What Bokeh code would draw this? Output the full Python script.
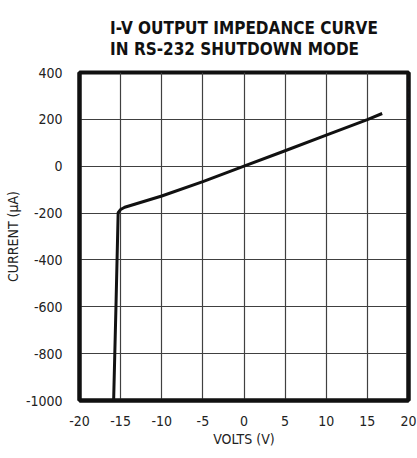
import math
from bokeh.plotting import figure
from bokeh.models import FixedTicker, Label, Title, LinearAxis
from bokeh.embed import file_html
from bokeh.resources import INLINE

volts = [-15.85, -15.55, -15.3, -15.0, -14.5, -10, -5, 0, 5, 10, 15, 16.8]
current_ua = [-1000, -575, -198, -185, -175, -127, -66, 0, 66, 133, 199, 225]
x_ticks = [-20, -15, -10, -5, 0, 5, 10, 15, 20]
y_ticks = [-1000, -800, -600, -400, -200, 0, 200, 400]
x_range = (-20, 20)
y_range = (-1000, 400)

FONT = "DejaVu Sans Condensed, Roboto, sans-serif"
INK = "#111111"

p = figure(frame_width=329, frame_height=328, x_range=x_range, y_range=y_range,
           output_backend="svg", toolbar_location=None,
           min_border_left=79, min_border_right=9, min_border_top=72, min_border_bottom=58)

p.title = Title(text="I-V OUTPUT IMPEDANCE CURVE\nIN RS-232 SHUTDOWN MODE", align="center",
                text_font=FONT, text_font_style="bold", text_font_size="17px",
                text_line_height=1.05, text_color=INK, standoff=28)

p.xaxis.ticker = FixedTicker(ticks=x_ticks)
p.yaxis.ticker = FixedTicker(ticks=y_ticks)
p.xaxis.major_label_overrides = {t: str(t) for t in x_ticks}
p.yaxis.major_label_overrides = {t: str(t) for t in y_ticks}
for ax in (p.xaxis[0], p.yaxis[0]):
    ax.axis_line_color = INK
    ax.axis_line_width = 4
    ax.major_tick_line_color = None
    ax.minor_tick_line_color = None
    ax.major_label_text_font = FONT
    ax.major_label_text_font_size = "14px"
    ax.major_label_text_color = "#222222"
    ax.axis_label_text_font = FONT
    ax.axis_label_text_font_size = "14px"
    ax.axis_label_text_font_style = "normal"
    ax.axis_label_text_color = "#222222"
p.xaxis.major_label_standoff = 9
p.yaxis.major_label_standoff = 11
p.xaxis.axis_label = "VOLTS (V)"
p.yaxis.axis_label = "CURRENT (µA)"
p.xaxis.axis_label_standoff = 2
p.yaxis.axis_label_standoff = 2

right_axis = LinearAxis(ticker=FixedTicker(ticks=[]), axis_line_color=INK, axis_line_width=4,
                        major_tick_line_color=None, minor_tick_line_color=None,
                        major_label_text_font_size="1px", major_label_standoff=0)
p.add_layout(right_axis, "right")

p.xgrid.ticker = FixedTicker(ticks=x_ticks)
p.ygrid.ticker = FixedTicker(ticks=y_ticks)
for g in (p.xgrid[0], p.ygrid[0]):
    g.grid_line_color = "#404040"
    g.grid_line_width = 1.2
    g.level = "glyph"

r = p.line(volts, current_ua, line_color=INK, line_width=3, line_join="round")
r.level = "annotation"

p.outline_line_color = INK
p.outline_line_width = 4

p.add_layout(Label(x=20.55, y=180, text="MAX3160-A", angle=math.pi / 2,
                   text_font=FONT, text_font_size="9px", text_color="#555555",
                   text_align="left", text_baseline="middle", level="overlay"))

open("out.html", "w").write(file_html(p, INLINE))
